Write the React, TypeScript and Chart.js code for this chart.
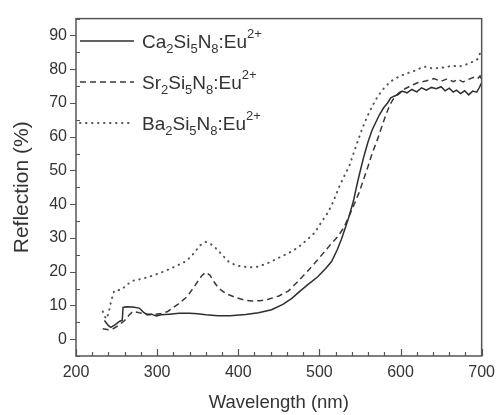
import React, { useEffect, useRef } from "react";
import { Chart, registerables } from "chart.js";

Chart.register(...registerables);

// Ca2Si5N8:Eu2+ (solid)
const caX = [235, 240, 243, 248, 254, 257, 258, 262, 270, 278, 283, 288, 293, 299, 305, 315, 327, 340, 350, 360, 375, 390, 409, 425, 441, 455, 466, 474, 485, 498, 508, 515, 522, 527, 532, 537, 542, 547, 551, 555, 560, 565, 570, 574, 579, 584, 588, 592, 597, 602, 608, 614, 620, 626, 632, 638, 644, 650, 655, 660, 665, 669, 674, 679, 684, 689, 694, 697, 700];
const caY = [5.5, 4.0, 3.5, 4.2, 5.3, 5.6, 9.4, 9.6, 9.5, 9.2, 8.0, 7.2, 7.4, 6.9, 7.2, 7.4, 7.7, 7.7, 7.5, 7.2, 6.9, 6.9, 7.3, 7.8, 8.7, 10.3, 12.1, 13.8, 16, 18.5, 21, 23, 26.5, 29.5, 33, 36.7, 41, 46.5, 50.5, 54.3, 58.5, 62, 64.5, 66.5, 68.5, 70, 71.5, 72, 72.5, 73.5, 73, 74, 73.3, 74.5, 73.8, 74.6, 74.2, 74.8, 73.6, 74.4, 73.2, 73.8, 72.8, 73.6, 72.4, 73.5, 73.2, 74.5, 76];

// Sr2Si5N8:Eu2+ (dashed)
const srX = [233, 240, 246, 253, 260, 265, 270, 278, 285, 295, 305, 313, 325, 337, 347, 355, 360, 365, 370, 376, 385, 396, 407, 417, 427, 437, 450, 462, 474, 486, 496, 506, 515, 523, 530, 537, 543, 549, 554, 559, 565, 572, 577, 582, 587, 592, 598, 604, 612, 621, 631, 641, 650, 658, 665, 671, 677, 684, 690, 695, 698, 700];
const srY = [3.1, 2.8, 3.1, 4.2, 5.5, 7, 8.2, 7.8, 7.5, 7.3, 7.6, 8.2, 10.2, 12.6, 16, 18.8, 19.8, 19, 17, 15, 13.5, 12.4, 11.6, 11.3, 11.4, 11.8, 12.8, 14.3, 17.2, 20.3, 23, 25.8, 28.4, 30.5, 33, 36.7, 40, 43.5, 47, 50.5, 55, 59.5, 63, 66.5, 69.5, 71.5, 73, 74, 75, 76, 76.5, 77.2, 76.4, 77.2, 76.3, 77, 76.2, 77, 77.6, 77.2, 78, 76.5];

// Ba2Si5N8:Eu2+ (dotted)
const baX = [233, 237, 240, 243, 247, 250, 256, 262, 270, 280, 290, 300, 311, 322, 335, 342, 347, 353, 360, 366, 372, 380, 388, 396, 404, 415, 425, 437, 449, 462, 474, 485, 494, 502, 509, 515, 520, 525, 531, 537, 542, 547, 553, 559, 565, 572, 580, 588, 598, 608, 618, 629, 640, 653, 663, 673, 682, 690, 695, 698];
const baY = [8.2, 6, 7.5, 11, 14.3, 14.5, 14.6, 16, 17.3, 17.8, 18.5, 19.3, 20.3, 21.5, 23, 24.5, 26, 27.8, 28.8, 28.2, 27, 25, 23, 22, 21.5, 21.3, 21.5, 22.6, 24, 25.5, 27.2, 29.5, 31.5, 34.5, 37, 39.6, 42.5, 45.5, 48.5, 51.4, 55, 58.5, 62.5, 66, 69, 72, 74.5, 76.4, 77.8, 78.8, 79.6, 80.8, 80.2, 80.5, 81, 80.8, 81.5, 82.3, 83, 84.7];

const legendNames = [
  [["Ca", 0], ["2", 1], ["Si", 0], ["5", 1], ["N", 0], ["8", 1], [":Eu", 0], ["2+", 2]],
  [["Sr", 0], ["2", 1], ["Si", 0], ["5", 1], ["N", 0], ["8", 1], [":Eu", 0], ["2+", 2]],
  [["Ba", 0], ["2", 1], ["Si", 0], ["5", 1], ["N", 0], ["8", 1], [":Eu", 0], ["2+", 2]],
];

const xTitle = "Wavelength (nm)";
const yTitle = "Reflection (%)";

const FONT = "'Liberation Sans', Arial, sans-serif";
const TEXT = "#333";

const styles = [
  { color: "#2e2e2e", width: 1.5, dash: [] as number[], cap: "butt" },
  { color: "#3a3a3a", width: 1.5, dash: [6, 4], cap: "butt" },
  { color: "#555", width: 2, dash: [0.5, 5.5], cap: "round" },
];

const toPts = (xs: number[], ys: number[]) => xs.map((x, i) => ({ x, y: ys[i] }));

const framePlugin = {
  id: "frameTicks",
  afterDraw(chart: any) {
    const { ctx, chartArea: a, scales } = chart;
    const xs = scales.x;
    const ys = scales.y;
    ctx.save();
    ctx.strokeStyle = "#555";
    ctx.lineWidth = 1.5;
    ctx.setLineDash([]);
    ctx.strokeRect(a.left, a.top, a.right - a.left, a.bottom - a.top);
    ctx.lineWidth = 1.2;
    ctx.beginPath();
    for (let v = 200; v <= 700; v += 20) {
      const p = Math.round(xs.getPixelForValue(v)) + 0.5;
      const len = v % 100 === 0 ? 7 : 4;
      ctx.moveTo(p, a.bottom);
      ctx.lineTo(p, a.bottom - len);
    }
    for (let v = -5; v <= 95; v += 5) {
      const p = Math.round(ys.getPixelForValue(v)) + 0.5;
      if (v % 10 === 0) {
        ctx.moveTo(a.left - 6, p);
        ctx.lineTo(a.left, p);
      } else {
        ctx.moveTo(a.left, p);
        ctx.lineTo(a.left + 4, p);
      }
    }
    ctx.stroke();

    // legend
    const rowY = [41, 82, 123];
    legendNames.forEach((parts, i) => {
      const y = rowY[i];
      const s = styles[i];
      ctx.strokeStyle = s.color;
      ctx.lineWidth = s.width;
      ctx.lineCap = s.cap;
      ctx.setLineDash(s.dash);
      ctx.beginPath();
      ctx.moveTo(80, y);
      ctx.lineTo(134, y);
      ctx.stroke();
      ctx.setLineDash([]);
      ctx.lineCap = "butt";
      let x = 142;
      const base = y + 7;
      ctx.fillStyle = TEXT;
      ctx.textBaseline = "alphabetic";
      ctx.textAlign = "left";
      parts.forEach(([t, kind]: any) => {
        if (kind === 0) {
          ctx.font = `19px ${FONT}`;
          ctx.fillText(t, x, base);
        } else if (kind === 1) {
          ctx.font = `13px ${FONT}`;
          ctx.fillText(t, x, base + 5);
        } else {
          ctx.font = `13px ${FONT}`;
          ctx.fillText(t, x, base - 10);
        }
        x += ctx.measureText(t).width;
      });
    });
    ctx.restore();
  },
};

export default function App() {
  const ref = useRef<HTMLCanvasElement>(null);
  useEffect(() => {
    if (!ref.current) return;
    const series = [toPts(caX, caY), toPts(srX, srY), toPts(baX, baY)];
    const chart = new Chart(ref.current, {
      type: "line",
      data: {
        datasets: series.map((d, i) => ({
          label: ["Ca", "Sr", "Ba"][i],
          data: d,
          borderColor: styles[i].color,
          borderWidth: styles[i].width,
          borderDash: styles[i].dash,
          borderCapStyle: styles[i].cap as any,
          pointRadius: 0,
          tension: 0,
          fill: false,
        })),
      },
      options: {
        responsive: false,
        animation: false,
        events: [],
        layout: { padding: { top: 14, right: 17, left: 0, bottom: 0 } },
        plugins: { legend: { display: false }, tooltip: { enabled: false } },
        scales: {
          x: {
            type: "linear",
            min: 200,
            max: 700,
            grid: { display: false, drawTicks: false },
            border: { display: false },
            ticks: { stepSize: 100, padding: 7, color: TEXT, font: { family: FONT, size: 16 } },
            title: {
              display: true,
              text: xTitle,
              color: TEXT,
              font: { family: FONT, size: 18.5 },
              padding: { top: 0, bottom: 1 },
            },
            afterFit: (s: any) => {
              s.height = 59;
            },
          },
          y: {
            type: "linear",
            min: -5,
            max: 95,
            grid: { display: false, drawTicks: false },
            border: { display: false },
            ticks: {
              stepSize: 10,
              padding: 9,
              color: TEXT,
              font: { family: FONT, size: 16 },
              callback: (v: any) => (Number(v) % 10 === 0 && Number(v) >= 0 && Number(v) <= 90 ? String(v) : ""),
            },
            afterBuildTicks: (s: any) => {
              const t = [];
              for (let v = 0; v <= 90; v += 10) t.push({ value: v });
              s.ticks = t;
            },
            title: {
              display: true,
              text: yTitle,
              color: TEXT,
              font: { family: FONT, size: 21 },
              padding: { top: 10, bottom: 0 },
            },
            afterFit: (s: any) => {
              s.width = 76;
            },
          },
        },
      },
      plugins: [framePlugin],
    });
    return () => chart.destroy();
  }, []);
  return (
    <div style={{ position: "fixed", left: 0, top: 0, width: 502, height: 415, background: "#fff" }}>
      <canvas ref={ref} width={502} height={415} style={{ display: "block" }} />
    </div>
  );
}
